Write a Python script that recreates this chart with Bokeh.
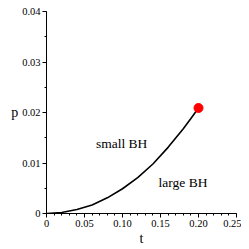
from bokeh.plotting import figure
from bokeh.models import FixedTicker, Range1d
from bokeh.core.properties import value
from bokeh.embed import file_html
from bokeh.resources import INLINE

# coexistence curve
t_vals = [0.0, 0.02, 0.04, 0.06, 0.08, 0.10, 0.12, 0.14, 0.16, 0.18, 0.19, 0.20]
p_vals = [0.0, 0.0002, 0.0008, 0.0017, 0.0031, 0.0049, 0.0071, 0.0098, 0.0131, 0.0168, 0.0188, 0.0209]
# critical point
crit_t = [0.20]
crit_p = [0.0209]
# region labels
lab_t = [0.065, 0.1475]
lab_p = [0.0139, 0.0061]
lab_txt = ["small BH", "large BH"]

x_ticks = [0, 0.05, 0.10, 0.15, 0.20, 0.25]
x_tick_labels = ["0", "0.05", "0.10", "0.15", "0.20", "0.25"]
y_ticks = [0, 0.01, 0.02, 0.03, 0.04]
y_tick_labels = ["0", "0.01", "0.02", "0.03", "0.04"]

SERIF = "Liberation Serif"

p = figure(output_backend="svg", toolbar_location=None,
           frame_width=190, frame_height=202,
           min_border_left=46, min_border_right=5, min_border_top=11, min_border_bottom=5,
           x_range=Range1d(0, 0.25), y_range=Range1d(0, 0.04))
p.outline_line_color = None
p.xgrid.visible = False
p.ygrid.visible = False

p.line(t_vals, p_vals, line_color="black", line_width=1.6)
p.scatter(crit_t, crit_p, size=9, fill_color="#ff0000", line_color="#ff0000")
p.text(lab_t, lab_p, text=lab_txt, text_font=value(SERIF), text_font_size="13.5px",
       text_align="left", text_baseline="middle", text_color="black")

xa = p.xaxis[0]
xa.ticker = FixedTicker(ticks=x_ticks, minor_ticks=[i * 0.01 for i in range(26)])
xa.major_label_overrides = {v: s for v, s in zip(x_ticks, x_tick_labels)}
xa.axis_label = "t"
ya = p.yaxis[0]
ya.ticker = FixedTicker(ticks=y_ticks, minor_ticks=[i * 0.005 for i in range(9)])
ya.major_label_overrides = {v: s for v, s in zip(y_ticks, y_tick_labels)}
ya.axis_label = "p"
ya.axis_label_orientation = "horizontal"

for ax in (xa, ya):
    ax.axis_line_color = "black"
    ax.axis_line_width = 1
    ax.major_tick_line_color = "black"
    ax.minor_tick_line_color = "black"
    ax.major_tick_out = 4
    ax.major_tick_in = 0
    ax.minor_tick_out = 2
    ax.minor_tick_in = 0
    ax.major_label_text_font = SERIF
    ax.major_label_text_font_size = "10.5px"
    ax.major_label_text_color = "black"
    ax.major_label_standoff = 2
    ax.axis_label_text_font = SERIF
    ax.axis_label_text_font_size = "14px"
    ax.axis_label_text_font_style = "normal"
    ax.axis_label_text_color = "black"
    ax.axis_label_standoff = 1

open("out.html", "w").write(file_html(p, INLINE))
